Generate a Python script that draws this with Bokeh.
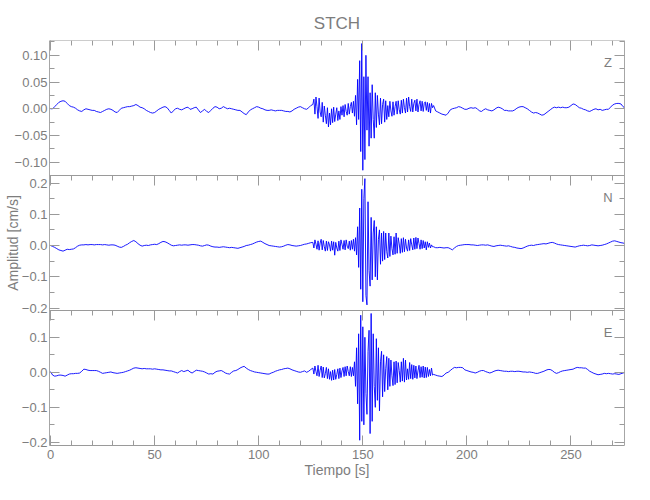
import numpy as np
from bokeh.plotting import figure
from bokeh.models import (Range1d, LinearAxis, FixedTicker, CustomJSTickFormatter, Label)
from bokeh.embed import file_html
from bokeh.resources import INLINE

# ---------------- data (amplitudes in 10^-3 cm/s) ----------------
# sample-time grids (s): quiet part before, strong-motion part, quiet part after
T_PRE_START, T_PRE_STEP = 0.0, 1.0
T_BURST_START, T_BURST_STEP = 126.0, 0.5
T_POST_START, T_POST_STEP = 185.0, 1.0

Z_PRE = [0, 0, 4, 8, 12, 14, 15, 14, 10, 6,
         4, 3, 1, -2, -4, -5, -2, 0, -1, -2,
         -3, -3, -5, -6, -7, -5, -3, -1, 0, -1,
         -3, -6, -7, -3, 1, 2, 3, 4, 4, 5,
         6, 8, 6, 3, 2, 0, -3, -5, -7, -8,
         -7, -4, -1, 1, 3, 4, 2, -3, -8, -4,
         0, 1, -1, -2, 0, 2, 3, -1, 0, 2,
         3, -2, -7, -4, -1, -5, -7, -3, 1, 4,
         3, 0, 1, 4, 2, 0, 1, 0, -1, -2,
         -3, -3, -6, -9, -11, -6, -2, 0, 2, 4,
         3, 1, 0, -2, -3, -3, -2, -3, -4, -3,
         -3, -3, -4, -5, -5, -6, -4, -1, 1, 3,
         4, 2, 0, -1, 2, 6]
Z_BURST = [8, 18, -10, 22, 4, -18, 20, -6, -15, 12,
           -25, 5, -12, -28, 2, -34, -8, -30, 0, -26,
           3, -24, -10, 2, -22, -4, -20, 4, -12, 6,
           -15, 8, -5, -12, 10, -10, 4, 12, -8, 14,
           -14, 25, -30, 55, -20, 90, -80, 122, -115, 60,
           -95, 100, -40, 60, -70, 30, -55, 45, -20, -55,
           30, -35, 25, -10, -30, 20, -28, 8, 18, -25,
           15, -20, 6, -15, 14, -4, -14, 13, -12, 4,
           14, -10, 15, -2, -10, 16, -8, 18, 2, -8,
           20, -6, 22, 4, -5, 18, -6, 10, 16, -4,
           18, -6, 8, 15, -4, 14, -5, 10, 13, -3,
           12, -6, 10, -8, 10, 2, 6]
Z_POST = [-4, -6, -8, -10, -11, -12, -8, -2, 0, 1,
          2, 4, 3, 1, -1, -1, 1, 2, 1, 2,
          0, -4, -5, -2, 0, -2, -3, -4, -2, 1,
          3, 2, 0, -3, -3, -4, -4, -4, -2, 1,
          3, 4, 4, 2, 0, -3, -6, -8, -7, -8,
          -10, -12, -11, -8, -5, -2, 1, 3, 2, 3,
          2, 3, 2, 2, 3, 6, 9, 8, 5, 2,
          1, -1, -2, -4, -5, -3, -1, 0, -2, -1,
          -3, -2, -1, -1, 3, 7, 9, 10, 10, 9,
          4, 1]

N_PRE = [0, -3, -6, -10, -14, -16, -18, -15, -12, -13,
         -12, -11, -7, -2, 1, 2, 2, 3, 2, 3,
         3, 2, 3, 3, 3, 2, 3, 2, 1, 2,
         2, 1, -2, -5, -6, -3, 1, 4, 9, 13,
         16, 12, 6, 1, -2, 0, 1, 0, 2, 3,
         4, 3, 6, 10, 13, 12, 9, 5, 1, -1,
         0, 1, 2, 1, 2, 2, 1, 2, 3, 3,
         2, 1, -1, -2, 0, 2, 1, -2, -4, -5,
         -5, -6, -5, -4, -5, -6, -7, -6, -7, -8,
         -9, -7, -5, -3, 0, 1, 3, 5, 8, 11,
         13, 14, 10, 6, 3, 0, -1, -2, -3, -4,
         -5, -4, -2, 1, 3, 2, 0, -1, -2, -1,
         0, 2, 4, 5, 7, 9]
N_BURST = [10, -8, 18, 4, -12, 15, -15, 8, 20, -14,
           16, -4, -18, 14, -16, 12, 2, -18, 14, -15,
           12, -31, 10, -8, -18, 14, -16, 18, 4, -12,
           16, -14, 18, -2, -10, 14, -15, 16, -12, 20,
           -18, 25, -30, 60, -70, 120, -140, 180, -180, 150,
           214, -160, -190, 140, -80, -130, 90, -110, 40, 80,
           -100, 60, -110, 20, 50, -60, 40, -50, 45, -45,
           40, -20, -40, 40, -35, 30, -10, -30, 28, -28,
           40, -25, 25, 5, -25, 22, -22, 25, -20, 20,
           -8, -18, 18, -16, 22, 2, -14, 24, -12, 26,
           -10, 24, 6, -12, 18, -10, 16, -8, 12, -14,
           12, -6, 8, -8, 2, -4, -4]
N_POST = [-7, -7, -6, -7, -8, -7, -7, -10, -14, -8,
          -3, 0, 1, 2, 3, 3, 3, 2, 2, 1,
          0, 1, 2, 2, 1, 2, 0, -2, -3, -1,
          0, 1, 0, -1, -2, -1, -3, -5, -6, -8,
          -9, -10, -8, -5, -2, 0, 1, 0, 2, 3,
          4, 5, 6, 5, 7, 9, 10, 8, 5, 3,
          2, 1, 0, -1, -2, -3, -4, -5, -3, -1,
          0, 1, 0, -1, 0, 2, 1, 0, -1, 0,
          1, 3, 5, 8, 11, 14, 15, 13, 11, 9,
          8, 6]

E_PRE = [2, -8, -11, -10, -8, -8, -9, -11, -8, -5,
         -4, -4, -3, -3, -2, 3, 9, 8, 6, 5,
         5, 5, 5, 3, 0, -3, -2, -1, 0, 1,
         -1, -2, -3, -2, -1, 0, 2, 4, 6, 9,
         12, 13, 12, 11, 10, 11, 10, 10, 10, 9,
         10, 9, 8, 7, 7, 6, 5, 4, 4, 2,
         0, -2, 2, 5, 2, 4, 6, 1, -2, 2,
         6, 5, 4, 3, 1, -2, -5, -4, -5, 0,
         3, 4, 5, 2, -2, -4, -5, 0, 4, 5,
         8, 12, 15, 17, 12, 8, 5, 3, 1, 0,
         -1, -2, -3, -4, -5, -5, -2, 0, 3, 5,
         7, 8, 10, 11, 12, 10, 7, 5, 3, 1,
         0, 2, 4, 0, 3, 8]
E_BURST = [12, -5, 18, 2, -10, 20, -12, 6, 18, -15,
           15, -16, -4, 14, -18, 10, -20, 2, -23, 6,
           -22, 8, -20, -6, 10, -18, 12, -15, 4, 14,
           -12, 16, -10, 18, 2, -10, 16, -12, 14, -10,
           30, -40, 70, -90, 110, -194, 163, -140, 130, -150,
           100, -60, -120, 60, 120, -175, 168, -140, 110, -40,
           -100, 96, -80, 70, -110, 30, 60, -70, 50, -55,
           10, 45, -50, 40, -40, 35, -10, -38, 30, -35,
           32, -30, 28, 5, -28, 30, -25, 40, -28, 35,
           -22, 10, -20, 28, -18, 22, -20, 20, -16, 18,
           -18, 4, 20, -15, 16, -14, 18, -16, 15, -15,
           14, -12, 8, -10, 12, -8, -6]
E_POST = [-8, -10, -11, -12, -8, -2, 0, 5, 10, 14,
          13, 14, 14, 13, 7, 5, 3, 1, 0, -2,
          0, 3, 5, 5, 2, 0, -2, 0, 3, 5,
          6, 5, 4, 3, 3, 2, 3, 3, 2, 3,
          3, 2, 1, 1, 0, 1, 0, -1, -3, -3,
          -1, 1, 3, 6, 8, 8, 5, 0, -3, -1,
          2, 4, 5, 6, 7, 8, 9, 12, 14, 13,
          13, 12, 12, 8, 3, 0, -3, -5, -7, -6,
          -5, -3, -4, -3, -4, -5, -4, -5, -6, -4,
          -2, 0]

COMPONENTS = ["Z", "N", "E"]
Y_LIMITS = [(-0.1248, 0.1277), (-0.208, 0.224), (-0.209, 0.1765)]
Y_MAJOR = [[-0.10, -0.05, 0.0, 0.05, 0.10],
           [-0.2, -0.1, 0.0, 0.1, 0.2],
           [-0.2, -0.1, 0.0, 0.1]]
Y_MINOR_STEP = [0.025, 0.05, 0.05]
Y_DECIMALS = [2, 1, 1]
X_LIMITS = (-0.5, 275.7)
X_MAJOR = [0, 50, 100, 150, 200, 250]
X_MINOR = list(range(0, 280, 10))
TITLE = "STCH"
XLABEL = "Tiempo [s]"
YLABEL = "Amplitud [cm/s]"


def series(pre, burst, post):
    t = np.concatenate([T_PRE_START + T_PRE_STEP * np.arange(len(pre)),
                        T_BURST_START + T_BURST_STEP * np.arange(len(burst)),
                        T_POST_START + T_POST_STEP * np.arange(len(post))])
    v = np.concatenate([pre, burst, post]) * 1e-3
    return t, v


DATA = [series(Z_PRE, Z_BURST, Z_POST),
        series(N_PRE, N_BURST, N_POST),
        series(E_PRE, E_BURST, E_POST)]

# ---------------- styling ----------------
FONT = "Liberation Sans Narrow, Liberation Sans, sans-serif"
TEXT = "#7d7d7d"
LINE = "#9a9a9a"
BLUE = "#0000ff"

W, H = 634, 492
LEFT, RIGHT, TOP, BOTTOM = 49, 10, 40, 47
n = len(COMPONENTS)

xr = Range1d(*X_LIMITS)
# default y range: panel i occupies [n-1-i, n-i] of the frame
p = figure(width=W, height=H, x_range=xr, y_range=Range1d(0, n),
           output_backend="svg", toolbar_location=None,
           x_axis_location=None, y_axis_location=None,
           min_border_left=LEFT, min_border_right=RIGHT,
           min_border_top=TOP, min_border_bottom=BOTTOM,
           outline_line_color=None, background_fill_color="white",
           border_fill_color="white")
p.grid.visible = False


def signed(v, dec):
    s = f"{abs(v):.{dec}f}"
    return ("\u2212" + s) if v < -1e-9 else s


def make_axis(ticker, **kw):
    return LinearAxis(ticker=ticker,
                      axis_line_color=LINE, axis_line_width=1,
                      major_tick_line_color=LINE, minor_tick_line_color=LINE,
                      major_tick_in=10, major_tick_out=0,
                      minor_tick_in=5, minor_tick_out=0,
                      major_label_text_color=None, **kw)


label_pos, label_txt = [], []
for i, comp in enumerate(COMPONENTS):
    lo, hi = Y_LIMITS[i]
    span = hi - lo
    name = comp.lower()
    p.extra_y_ranges[name] = Range1d(lo - (n - 1 - i) * span, hi + i * span)

    step = Y_MINOR_STEP[i]
    minor = [round(k * step, 4) for k in range(int(np.ceil(lo / step)), int(np.floor(hi / step)) + 1)]

    p.add_layout(make_axis(FixedTicker(ticks=Y_MAJOR[i], minor_ticks=minor),
                           y_range_name=name, fixed_location=X_LIMITS[0]), "left")
    p.add_layout(make_axis(FixedTicker(ticks=Y_MAJOR[i], minor_ticks=minor),
                           y_range_name=name, fixed_location=X_LIMITS[1]), "right")
    p.add_layout(make_axis(FixedTicker(ticks=X_MAJOR, minor_ticks=X_MINOR),
                           y_range_name=name, fixed_location=hi), "above")

    for v in Y_MAJOR[i]:
        label_pos.append((n - 1 - i) + (v - lo) / span)
        label_txt.append(signed(v, Y_DECIMALS[i]))

    t, v = DATA[i]
    p.line(t, v, line_color=BLUE, line_width=0.9, y_range_name=name)

    p.add_layout(Label(x=267.8, y=hi - 0.16 * span, y_range_name=name, text=comp,
                       text_align="center", text_baseline="middle",
                       text_font=FONT, text_font_size="13px", text_color=TEXT))

# amplitude tick labels of all three panels + shared axis title
lab = LinearAxis(ticker=FixedTicker(ticks=label_pos, minor_ticks=[]),
                 formatter=CustomJSTickFormatter(args=dict(pos=label_pos, txt=label_txt), code="""
                     let best = -1, d = 1e9;
                     for (let k = 0; k < pos.length; k++) {
                         const e = Math.abs(pos[k] - tick);
                         if (e < d) { d = e; best = k; }
                     }
                     return (best >= 0 && d < 1e-6) ? txt[best] : '';
                 """),
                 axis_line_color=None, major_tick_line_color=None, minor_tick_line_color=None,
                 major_tick_in=0, major_tick_out=0, minor_tick_in=0, minor_tick_out=0,
                 major_label_standoff=2, major_label_text_font=FONT,
                 major_label_text_font_size="13px", major_label_text_color=TEXT,
                 axis_label=YLABEL, axis_label_text_font=FONT,
                 axis_label_text_font_size="14px", axis_label_text_color=TEXT,
                 axis_label_text_font_style="normal", axis_label_standoff=-9)
p.add_layout(lab, "left")

# bottom time axis with labels
xb = LinearAxis(ticker=FixedTicker(ticks=X_MAJOR, minor_ticks=X_MINOR),
                axis_line_color=LINE, major_tick_line_color=LINE, minor_tick_line_color=LINE,
                major_tick_in=10, major_tick_out=0, minor_tick_in=5, minor_tick_out=0,
                major_label_standoff=4, major_label_text_font=FONT,
                major_label_text_font_size="13px", major_label_text_color=TEXT,
                axis_label=XLABEL, axis_label_text_font=FONT,
                axis_label_text_font_size="14px", axis_label_text_color=TEXT,
                axis_label_text_font_style="normal", axis_label_standoff=0)
p.add_layout(xb, "below")

# chart title, centred over the frame
ta = LinearAxis(ticker=FixedTicker(ticks=[]), axis_line_color=None,
                major_tick_line_color=None, minor_tick_line_color=None,
                major_tick_in=0, major_tick_out=0, major_label_standoff=0,
                axis_label=TITLE, axis_label_text_font=FONT,
                axis_label_text_font_size="17px", axis_label_text_color=TEXT,
                axis_label_text_font_style="normal", axis_label_standoff=8)
p.add_layout(ta, "above")

open("out.html", "w").write(file_html(p, INLINE))
